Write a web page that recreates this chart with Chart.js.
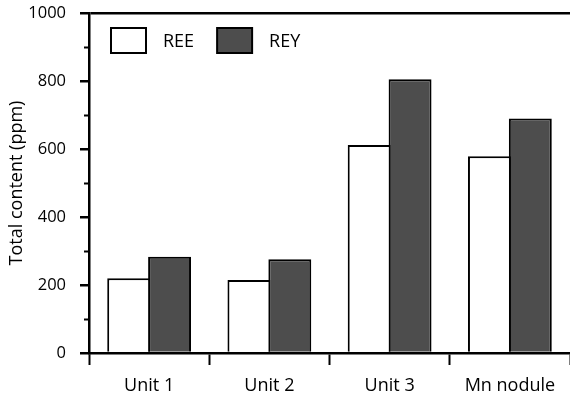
<!DOCTYPE html>
<html>
<head>
<meta charset="utf-8">
<script src="https://cdn.jsdelivr.net/npm/chart.js@4/dist/chart.umd.min.js"></script>
<style>
  html, body { margin: 0; padding: 0; background: #fff; }
  #wrap { width: 570px; height: 401px; position: relative; }
</style>
</head>
<body>
<div id="wrap"><canvas id="c"></canvas></div>
<script>
// Total REE / REY content per sample group (ppm)
const categories = ['Unit 1', 'Unit 2', 'Unit 3', 'Mn nodule'];
const reeValues = [220, 215, 612, 579];
const reyValues = [283, 276, 805, 690];
const yMajorTicks = [0, 200, 400, 600, 800, 1000];
const yMinorTicks = [100, 300, 500, 700, 900];

const FONT = "'Open Sans', sans-serif";
const INK = '#000';

// Short unlabeled ticks between the labeled ones on the value axis
const minorTicks = {
  id: 'minorTicks',
  afterDraw(chart) {
    const y = chart.scales.y;
    const ctx = chart.ctx;
    const x0 = chart.chartArea.left;
    ctx.save();
    ctx.strokeStyle = INK;
    ctx.lineWidth = 2;
    yMinorTicks.forEach(v => {
      const py = Math.round(y.getPixelForValue(v)) + 0.5;
      ctx.beginPath();
      ctx.moveTo(x0 - 5, py);
      ctx.lineTo(x0, py);
      ctx.stroke();
    });
    ctx.restore();
  }
};

// Legend drawn inside the plot, top-left, one row
const insideLegend = {
  id: 'insideLegend',
  afterDraw(chart) {
    const ctx = chart.ctx;
    const area = chart.chartArea;
    const boxW = 35, boxH = 25, gapText = 17, gapItem = 23;
    let x = area.left + 22;
    const top = area.top + 15;
    ctx.save();
    ctx.font = '18px ' + FONT;
    ctx.textBaseline = 'middle';
    ctx.textAlign = 'left';
    chart.data.datasets.forEach(ds => {
      ctx.fillStyle = ds.backgroundColor;
      ctx.fillRect(x, top, boxW, boxH);
      ctx.strokeStyle = ds.borderColor;
      ctx.lineWidth = 2;
      ctx.strokeRect(x, top, boxW, boxH);
      const tx = x + boxW + gapText;
      ctx.fillStyle = INK;
      ctx.fillText(ds.label, tx, top + boxH / 2 + 1);
      x = tx + ctx.measureText(ds.label).width + gapItem;
    });
    ctx.restore();
  }
};

new Chart(document.getElementById('c'), {
  type: 'bar',
  data: {
    labels: categories,
    datasets: [
      {
        label: 'REE',
        data: reeValues,
        backgroundColor: '#ffffff',
        borderColor: INK,
        borderWidth: 2,
        categoryPercentage: 0.68,
        barPercentage: 1.05
      },
      {
        label: 'REY',
        data: reyValues,
        backgroundColor: '#4d4d4d',
        borderColor: INK,
        borderWidth: 2,
        categoryPercentage: 0.68,
        barPercentage: 1.05
      }
    ]
  },
  options: {
    responsive: true,
    maintainAspectRatio: false,
    animation: false,
    devicePixelRatio: 1,
    layout: { padding: { top: 13, right: 0, left: 0, bottom: 0 } },
    plugins: {
      legend: { display: false },
      tooltip: { enabled: false },
      title: { display: false }
    },
    scales: {
      x: {
        offset: true,
        grid: {
          offset: true,
          drawOnChartArea: false,
          drawTicks: true,
          tickLength: 12,
          tickWidth: 2,
          tickColor: ctx => (ctx.index >= categories.length ? 'rgba(0,0,0,0)' : INK)
        },
        border: { display: true, color: INK, width: 2.5 },
        ticks: {
          color: INK,
          font: { family: FONT, size: 18 },
          padding: 10,
          maxRotation: 0
        },
        afterFit(scale) { scale.height = 48; }
      },
      y: {
        min: 0,
        max: 1000,
        afterBuildTicks(scale) {
          scale.ticks = yMajorTicks.map(v => ({ value: v }));
        },
        grid: {
          drawOnChartArea: true,
          color: ctx => (ctx.tick && ctx.tick.value === 1000 ? INK : 'rgba(0,0,0,0)'),
          lineWidth: 2.5,
          tickLength: 9,
          tickWidth: 2.5,
          tickColor: INK
        },
        border: { display: true, color: INK, width: 2.5 },
        ticks: {
          color: INK,
          font: { family: FONT, size: 16.5 },
          padding: 14,
          callback: v => String(v)
        },
        title: {
          display: true,
          text: 'Total content (ppm)',
          color: INK,
          font: { family: FONT, size: 18 },
          padding: { top: 6, bottom: 0 }
        },
        afterFit(scale) {
          scale.width = 89;
          scale.paddingTop = 10;
          scale.paddingBottom = 10;
        }
      }
    }
  },
  plugins: [minorTicks, insideLegend]
});
</script>
</body>
</html>
